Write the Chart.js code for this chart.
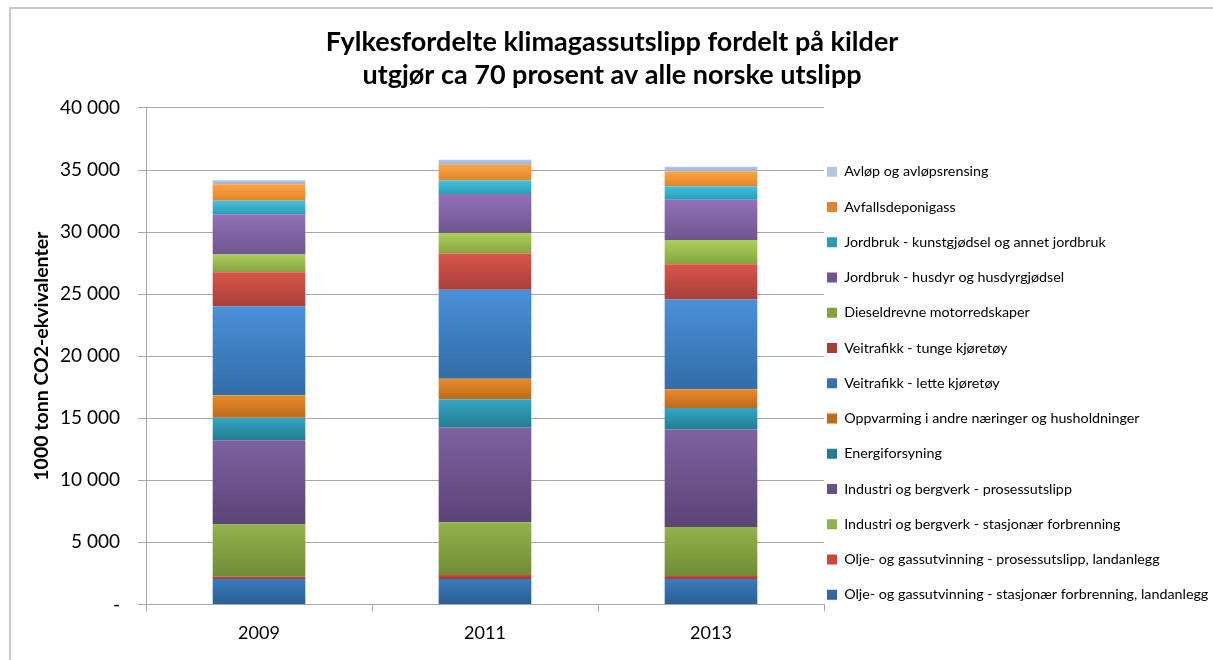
<!DOCTYPE html>
<html lang="no">
<head>
  <meta charset="UTF-8" />
  <title>Fylkesfordelte klimagassutslipp</title>
  <script src="https://cdn.jsdelivr.net/npm/chart.js"></script>
  <style>
    body { margin:0; background:#fff; }
    .wrap { position:relative; width:1213px; height:660px; overflow:hidden; }
    .frame { position:absolute; left:9px; top:7px; width:1300px; height:700px; border-left:2px solid #c8c8c8; border-top:2px solid #c8c8c8; }
    canvas { position:absolute; left:0; top:0; }
  </style>
</head>
<body>
<div class="wrap">
  <div class="frame"></div>
  <canvas id="chart" width="1213" height="660"></canvas>
</div>

<script>
const years = ['2009', '2011', '2013'];

// 1000 tonn CO2-ekvivalenter, fra bunnen av stolpen og oppover
const oljeStasjonaer     = [2050, 2050, 2050];
const oljeProsess        = [180, 310, 240];
const industriStasjonaer = [4230, 4250, 3940];
const industriProsess    = [6770, 7640, 7870];
const energiforsyning    = [1810, 2260, 1730];
const oppvarming         = [1810, 1680, 1500];
const veiLette           = [7170, 7170, 7240];
const veiTunge           = [2750, 2910, 2830];
const diesel             = [1420, 1650, 1970];
const jordbrukHusdyr     = [3250, 3150, 3230];
const jordbrukKunst      = [1080, 1080, 1100];
const avfallsgass        = [1340, 1280, 1180];
const avlop              = [310, 390, 390];

const sources = [
  'Olje- og gassutvinning - stasjonær forbrenning, landanlegg',
  'Olje- og gassutvinning - prosessutslipp, landanlegg',
  'Industri og bergverk - stasjonær forbrenning',
  'Industri og bergverk - prosessutslipp',
  'Energiforsyning',
  'Oppvarming i andre næringer og husholdninger',
  'Veitrafikk - lette kjøretøy',
  'Veitrafikk - tunge kjøretøy',
  'Dieseldrevne motorredskaper',
  'Jordbruk - husdyr og husdyrgjødsel',
  'Jordbruk - kunstgjødsel og annet jordbruk',
  'Avfallsdeponigass',
  'Avløp og avløpsrensing'
];
const values = [oljeStasjonaer, oljeProsess, industriStasjonaer, industriProsess, energiforsyning,
  oppvarming, veiLette, veiTunge, diesel, jordbrukHusdyr, jordbrukKunst, avfallsgass, avlop];

const yTicks = [0, 5000, 10000, 15000, 20000, 25000, 30000, 35000, 40000];

// [top of gradient, bottom of gradient, flat legend colour]
const palette = [
  ['#3b7bbd', '#2b5e92', '#3570ad'],
  ['#c8473f', '#a23a35', '#be4b48'],
  ['#93b24a', '#718b35', '#8aa843'],
  ['#7c62a1', '#5b4476', '#7a5f9c'],
  ['#35a6c2', '#237d92', '#2f9ab5'],
  ['#e98a2b', '#bd6a1c', '#e4862a'],
  ['#4a90d9', '#326da7', '#4585cb'],
  ['#da544b', '#a8403a', '#cf4d46'],
  ['#add05c', '#86a23f', '#a0c052'],
  ['#9271b9', '#6f558f', '#8466ab'],
  ['#42c1e0', '#2b9cb6', '#37b3d2'],
  ['#ffa443', '#df852a', '#f4962f'],
  ['#b4c6e2', '#9cb1d1', '#a9bcd9']
];

function segmentFill(ctx) {
  const cols = palette[ctx.datasetIndex];
  const chart = ctx.chart;
  if (ctx.type !== 'data' || !chart.chartArea || !chart.scales.y) return cols[2];
  const ds = chart.data.datasets;
  let lo = 0;
  for (let k = 0; k < ctx.datasetIndex; k++) lo += ds[k].data[ctx.dataIndex];
  const hi = lo + ds[ctx.datasetIndex].data[ctx.dataIndex];
  const y = chart.scales.y;
  const g = chart.ctx.createLinearGradient(0, y.getPixelForValue(hi), 0, y.getPixelForValue(lo));
  g.addColorStop(0, cols[0]);
  g.addColorStop(1, cols[1]);
  return g;
}

function fmt(v) {
  if (v === 0) return '-';
  return String(v).replace(/\B(?=(\d{3})+(?!\d))/g, ' ');
}

// Excel-style placement: legend hugs the plot, title centred on the whole frame
const layoutTweak = {
  id: 'layoutTweak',
  afterLayout(chart) {
    const l = chart.legend;
    const dx = chart.chartArea.right + 3 - (l.left + l.options.labels.padding);
    l.left += dx;
    l.right = chart.width;
    l.width = l.right - l.left;
    l.top += 27; l.bottom += 27;
    const t = chart.titleBlock;
    t.right = chart.width;
    t.width = t.right - t.left;
  }
};

const grey = '#a9a9a9';
Chart.defaults.font.family = 'Lato, "Open Sans", sans-serif';
Chart.defaults.color = '#000';

new Chart(document.getElementById('chart'), {
  type: 'bar',
  data: {
    labels: years,
    datasets: sources.map((s, i) => ({
      label: s,
      data: values[i],
      backgroundColor: segmentFill,
      borderWidth: 0,
      barPercentage: 0.41,
      categoryPercentage: 1
    }))
  },
  options: {
    responsive: false,
    animation: false,
    devicePixelRatio: 1,
    layout: { padding: { left: 11, right: 118, top: 0, bottom: 5 } },
    plugins: {
      title: {
        display: true,
        text: ['Fylkesfordelte klimagassutslipp fordelt på kilder', 'utgjør ca 70 prosent av alle norske utslipp'],
        font: { size: 27, weight: 'bold', lineHeight: 1.222 },
        color: '#000',
        padding: { top: 25.5, bottom: 16.5 }
      },
      legend: {
        position: 'right',
        fullSize: false,
        reverse: true,
        labels: { boxWidth: 10, boxHeight: 10, padding: 20.95, font: { size: 14.3 }, color: '#000' }
      },
      tooltip: { enabled: false }
    },
    scales: {
      x: {
        stacked: true,
        grid: { drawOnChartArea: false, drawTicks: true, tickLength: 7, color: grey },
        border: { color: grey },
        ticks: { font: { size: 18 }, padding: 11 }
      },
      y: {
        stacked: true,
        min: 0,
        max: 40000,
        afterBuildTicks: s => { s.ticks = yTicks.map(v => ({ value: v })); },
        afterFit: s => { s.width = 135; },
        grid: { color: grey, tickLength: 8 },
        border: { color: grey },
        ticks: { font: { size: 19 }, padding: 18, callback: v => fmt(v) },
        title: {
          display: true,
          text: '1000 tonn CO2-ekvivalenter',
          font: { size: 19.5, weight: 'bold' },
          padding: { top: 19.3, bottom: 0 }
        }
      }
    }
  },
  plugins: [layoutTweak]
});
</script>
</body>
</html>
